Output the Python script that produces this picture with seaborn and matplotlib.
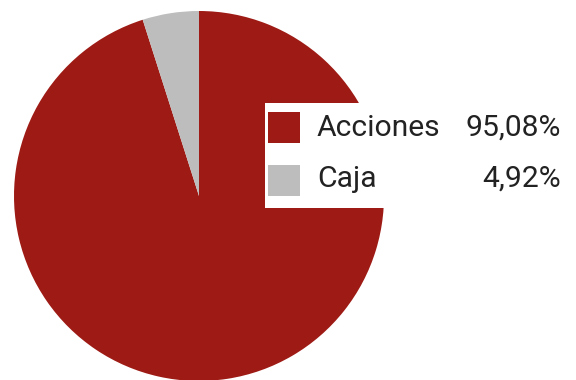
import matplotlib
matplotlib.use("Agg")
import matplotlib.pyplot as plt
import seaborn as sns
from matplotlib.patches import Rectangle

sns.set_theme(style="white")
plt.rcParams['font.family'] = ['Roboto', 'DejaVu Sans']

labels = ["Acciones", "Caja"]
values = [95.08, 4.92]
pct_labels = ["95,08%", "4,92%"]
colors = ["#9E1A14", "#BDBDBD"]

W, H = 576, 380
dpi = 96
fig = plt.figure(figsize=(W / dpi, H / dpi), dpi=dpi)
fig.patch.set_facecolor("white")

cx, cy, r = 199, 196, 185
ax = fig.add_axes([(cx - r) / W, (H - cy - r) / H, 2 * r / W, 2 * r / H])
ax.pie(values, colors=colors, startangle=90, counterclock=False,
       radius=1, wedgeprops=dict(linewidth=0))
ax.set_xlim(-1, 1)
ax.set_ylim(-1, 1)
ax.set_aspect("equal")
ax.axis("off")

def fx(x):
    return x / W

def fy(y):
    return 1 - y / H

# white legend box
fig.add_artist(Rectangle((fx(265), fy(208)), fx(576 - 265), (208 - 103) / H,
                         transform=fig.transFigure, facecolor="white",
                         edgecolor="none", zorder=5))
rows_top = [112, 165]
baselines = [136, 187]
for lab, pct, col, top, base in zip(labels, pct_labels, colors, rows_top, baselines):
    fig.add_artist(Rectangle((fx(268), fy(top + 31)), fx(32), 31 / H,
                             transform=fig.transFigure, facecolor=col,
                             edgecolor="none", zorder=6))
    fig.text(fx(317), fy(base), lab, fontsize=22.5, color="#222222",
             va="baseline", ha="left", zorder=7)
    fig.text(fx(561), fy(base), pct, fontsize=22.5, color="#222222",
             va="baseline", ha="right", zorder=7)

fig.savefig("out.png", dpi=dpi, facecolor="white")
